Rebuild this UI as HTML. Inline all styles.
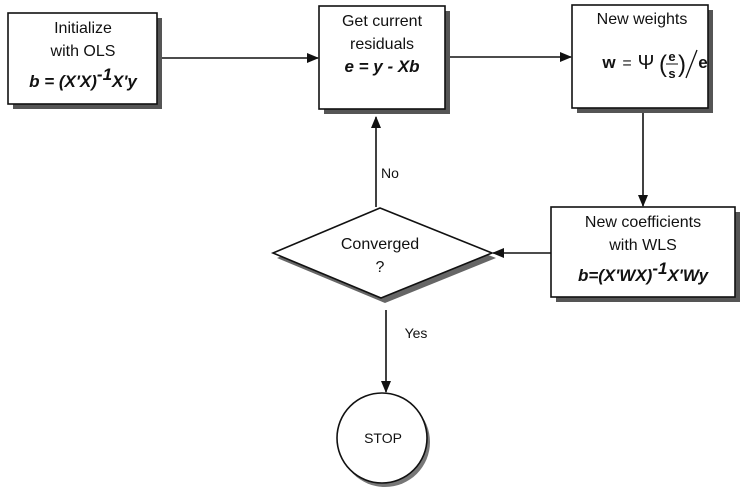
<!DOCTYPE html>
<html><head><style>
body{margin:0;background:#fff;}
svg{display:block}
text{font-family:"Liberation Sans",Arial,sans-serif;fill:#111}
</style></head><body>
<svg width="748" height="494" viewBox="0 0 748 494" xmlns="http://www.w3.org/2000/svg">
<defs>
<marker id="a" markerWidth="12" markerHeight="10" refX="11" refY="5" orient="auto" markerUnits="userSpaceOnUse">
<path d="M0,0 L12,5 L0,10 z" fill="#111"/></marker>
</defs>
<g stroke="#111" stroke-width="1.6" fill="none">
<rect x="13" y="18" width="149" height="91" fill="#555" stroke="none"/>
<rect x="324" y="11" width="126" height="103" fill="#555" stroke="none"/>
<rect x="577" y="10" width="136" height="103" fill="#555" stroke="none"/>
<rect x="556" y="212" width="184" height="90" fill="#555" stroke="none"/>
<circle cx="385" cy="442" r="45" fill="#777" stroke="none"/>
<polygon points="382,213 496,258 385,303 277,258" fill="#666" stroke="none"/>
<rect x="8" y="13" width="149" height="91" fill="#fff"/>
<rect x="319" y="6" width="126" height="103" fill="#fff"/>
<rect x="572" y="5" width="136" height="103" fill="#fff"/>
<rect x="551" y="207" width="184" height="90" fill="#fff"/>
<polygon points="380,208 492,253 381,298 273,253" fill="#fff"/>
<circle cx="382" cy="438" r="45" fill="#fff"/>
<line x1="162" y1="58" x2="318" y2="58" marker-end="url(#a)"/>
<line x1="450" y1="57" x2="571" y2="57" marker-end="url(#a)"/>
<line x1="643" y1="113" x2="643" y2="206" marker-end="url(#a)"/>
<line x1="551" y1="253" x2="493" y2="253" marker-end="url(#a)"/>
<line x1="376" y1="207" x2="376" y2="117" marker-end="url(#a)"/>
<line x1="386" y1="310" x2="386" y2="392" marker-end="url(#a)"/>
</g>
<g font-size="16" text-anchor="middle">
<text x="83" y="33">Initialize</text>
<text x="83" y="56">with OLS</text>
<text x="83" y="87" font-weight="bold" font-style="italic" font-size="17">b = (X'X)<tspan dy="-7">-1</tspan><tspan dy="7">X'y</tspan></text>
<text x="382" y="26">Get  current</text>
<text x="382" y="49">residuals</text>
<text x="382" y="72" font-weight="bold" font-style="italic" font-size="17">e = y - Xb</text>
<text x="642" y="24">New weights</text>
<text x="609" y="68" font-weight="bold" font-size="17">w</text>
<text x="627" y="68">=</text>
<text x="646" y="69" font-family="Liberation Serif" font-size="20">Ψ</text>
<text x="663" y="72" font-size="24">(</text>
<text x="672" y="61" font-size="13" font-weight="bold">e</text>
<line x1="666" y1="64" x2="678" y2="64" stroke="#111" stroke-width="1"/>
<text x="672" y="78" font-size="13" font-weight="bold">s</text>
<text x="682" y="72" font-size="24">)</text>
<line x1="686" y1="78" x2="697" y2="50" stroke="#111" stroke-width="1.3"/>
<text x="703" y="68" font-weight="bold" font-size="17">e</text>
<text x="643" y="227">New coefficients</text>
<text x="643" y="250">with WLS</text>
<text x="643" y="281" font-weight="bold" font-style="italic" font-size="17">b=(X'WX)<tspan dy="-7">-1</tspan><tspan dy="7">X'Wy</tspan></text>
<text x="380" y="249">Converged</text>
<text x="380" y="272">?</text>
<text x="390" y="178" font-size="14">No</text>
<text x="416" y="338" font-size="14">Yes</text>
<text x="383" y="443" font-size="14">STOP</text>
</g>
</svg>
</body></html>
